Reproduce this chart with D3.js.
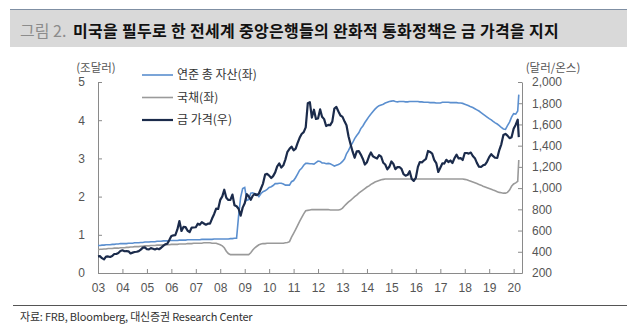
<!DOCTYPE html>
<html><head><meta charset="utf-8">
<script src="https://cdn.jsdelivr.net/npm/d3@7"></script>
<style>
html,body{margin:0;padding:0;background:#fff;}
svg{display:block;font-family:"Liberation Sans","Noto Sans CJK KR",Arial,sans-serif;}
</style></head>
<body>
<svg id="c" width="637" height="332"></svg>
<script>
// ---- data (month-start values, Jan 2003 .. Feb 2020) ----
const startMonth = "2003-01-01";
const fedAssets = [
0.72,0.72,0.73,0.73,0.74,0.74,0.74,0.75,0.75,0.76,0.76,0.77,
0.77,0.77,0.77,0.78,0.78,0.78,0.79,0.79,0.79,0.80,0.80,0.81,
0.81,0.81,0.82,0.82,0.82,0.83,0.83,0.83,0.84,0.84,0.84,0.85,
0.85,0.85,0.85,0.85,0.86,0.86,0.86,0.86,0.87,0.87,0.87,0.87,
0.87,0.87,0.87,0.88,0.88,0.88,0.88,0.88,0.88,0.89,0.89,0.89,
0.89,0.89,0.89,0.89,0.89,0.90,0.90,0.91,0.91,1.49,1.98,2.21,
2.24,1.90,1.92,2.09,2.10,2.07,2.07,2.00,2.08,2.13,2.15,2.19,
2.24,2.26,2.29,2.34,2.34,2.35,2.35,2.33,2.30,2.30,2.30,2.39,
2.42,2.50,2.59,2.69,2.74,2.82,2.87,2.87,2.86,2.86,2.85,2.89,
2.93,2.92,2.88,2.88,2.86,2.87,2.86,2.83,2.80,2.82,2.84,2.87,
2.92,2.99,3.12,3.21,3.32,3.41,3.52,3.60,3.67,3.78,3.85,3.94,
4.02,4.10,4.16,4.23,4.29,4.34,4.38,4.40,4.42,4.45,4.47,4.49,
4.50,4.51,4.49,4.48,4.49,4.49,4.49,4.48,4.48,4.49,4.49,4.49,
4.49,4.49,4.48,4.48,4.47,4.47,4.47,4.46,4.46,4.46,4.45,4.45,
4.45,4.47,4.47,4.47,4.47,4.46,4.46,4.46,4.46,4.45,4.45,4.44,
4.42,4.40,4.38,4.35,4.33,4.30,4.27,4.24,4.20,4.16,4.12,4.08,
4.04,4.01,3.97,3.93,3.90,3.86,3.81,3.77,3.76,3.86,3.95,4.08,
4.17,4.16
];
const treasuries = [
0.61,0.62,0.62,0.63,0.63,0.64,0.64,0.64,0.65,0.65,0.65,0.66,
0.66,0.66,0.67,0.67,0.68,0.68,0.69,0.69,0.69,0.70,0.70,0.71,
0.71,0.71,0.72,0.72,0.72,0.73,0.73,0.73,0.74,0.74,0.74,0.74,
0.75,0.75,0.75,0.75,0.76,0.76,0.76,0.76,0.77,0.77,0.77,0.78,
0.78,0.78,0.78,0.78,0.79,0.79,0.79,0.79,0.78,0.78,0.78,0.76,
0.74,0.71,0.66,0.57,0.51,0.48,0.48,0.48,0.48,0.48,0.48,0.48,
0.48,0.48,0.48,0.53,0.60,0.66,0.70,0.74,0.76,0.77,0.77,0.78,
0.78,0.78,0.78,0.78,0.78,0.78,0.78,0.78,0.79,0.80,0.82,0.94,
1.04,1.14,1.24,1.35,1.45,1.55,1.63,1.64,1.65,1.66,1.66,1.66,
1.66,1.66,1.66,1.66,1.66,1.66,1.65,1.65,1.65,1.65,1.65,1.66,
1.70,1.76,1.81,1.86,1.90,1.95,2.00,2.04,2.09,2.13,2.17,2.21,
2.25,2.28,2.32,2.35,2.38,2.40,2.42,2.44,2.45,2.46,2.46,2.46,
2.46,2.46,2.46,2.46,2.46,2.46,2.46,2.46,2.46,2.46,2.46,2.46,
2.46,2.46,2.46,2.46,2.46,2.46,2.46,2.46,2.46,2.46,2.46,2.46,
2.46,2.46,2.46,2.46,2.46,2.46,2.46,2.46,2.46,2.46,2.46,2.46,
2.45,2.44,2.42,2.40,2.38,2.36,2.34,2.32,2.30,2.27,2.25,2.23,
2.21,2.19,2.17,2.15,2.13,2.11,2.10,2.09,2.09,2.11,2.17,2.27,
2.33,2.36
];
const goldPrice = [
356,359,340,328,355,356,351,360,379,379,389,407,
414,405,406,404,384,392,398,400,406,420,439,442,
424,423,434,429,422,431,424,438,456,470,476,510,
549,555,557,610,690,596,634,632,598,586,628,629,
631,665,655,679,667,655,665,665,713,754,806,803,
889,922,985,909,888,889,939,839,829,806,740,816,
858,943,924,890,928,946,934,949,996,1043,1127,1134,
1118,1095,1113,1148,1205,1232,1193,1215,1271,1342,1370,1391,
1356,1372,1424,1474,1510,1528,1572,1800,1810,1665,1739,1652,
1656,1742,1673,1650,1585,1596,1594,1626,1750,1765,1722,1684,
1671,1627,1593,1487,1414,1343,1286,1347,1349,1316,1275,1222,
1244,1300,1336,1299,1288,1279,1311,1296,1239,1222,1176,1201,
1251,1227,1179,1198,1199,1182,1131,1117,1125,1159,1086,1068,
1097,1200,1246,1243,1260,1276,1350,1341,1326,1266,1236,1152,
1192,1234,1231,1267,1246,1260,1237,1283,1315,1280,1282,1265,
1331,1331,1325,1335,1303,1282,1238,1202,1199,1215,1221,1250,
1292,1320,1301,1286,1284,1359,1413,1500,1511,1495,1471,1480,
1560,1598
];
// March 2020 tail points
const tailDates = ["2020-03-02","2020-03-18"];
const tailFed = [4.24, 4.67];
const tailTreasuries = [2.40, 2.96];
const tailGold = [1645, 1480];

const xTickYears = d3.range(2003, 2021);
const leftTicks = [0,1,2,3,4,5];
const rightTicks = [200,400,600,800,1000,1200,1400,1600,1800,2000];
const seriesNames = ["연준 총 자산(좌)", "국채(좌)", "금 가격(우)"];
const titleLead = "그림 2.";
const titleText = "미국을 필두로 한 전세계 중앙은행들의 완화적 통화정책은 금 가격을 지지";
const sourceText = "자료: FRB, Bloomberg, 대신증권 Research Center";

// ---- build ----
const parse = d3.timeParse("%Y-%m-%d");
const start = parse(startMonth);
const dates = fedAssets.map((_, i) => d3.timeMonth.offset(start, i)).concat(tailDates.map(parse));
function series(vals, tail){ return vals.concat(tail).map((v,i)=>({d:dates[i], v})); }
const sFed = series(fedAssets, tailFed);
const sTre = series(treasuries, tailTreasuries);
const sGold = series(goldPrice, tailGold);

const svg = d3.select("#c");
const L = 98, R = 522, T = 82, B = 273;
const x = d3.scaleTime().domain([parse("2003-01-01"), parse("2020-05-05")]).range([L, R]);
const yL = d3.scaleLinear().domain([0,5]).range([B,T]);
const yR = d3.scaleLinear().domain([200,2000]).range([B,T]);

// title band
svg.append("rect").attr("x",10).attr("y",9).attr("width",617).attr("height",38).attr("fill","#d9d9d9");
svg.append("line").attr("x1",10).attr("x2",627).attr("y1",9.5).attr("y2",9.5).attr("stroke","#7f8fa3").attr("stroke-width",1.2);
svg.append("text").attr("x",20).attr("y",37).attr("font-family","'Noto Sans CJK KR',sans-serif").attr("font-size",16)
  .attr("fill","#8c8c8c").text(titleLead);
svg.append("text").attr("x",73).attr("y",37).attr("font-family","'Noto Sans CJK KR',sans-serif").attr("font-size",16)
  .attr("letter-spacing","0.3").attr("fill","#111").attr("font-weight","bold").text(titleText);

const axisColor = "#8a8a8a";
const labelColor = "#555";
// axes
const gx = svg.append("g").attr("transform",`translate(0,${B})`)
  .call(d3.axisBottom(x).tickValues(xTickYears.map(y=>new Date(y,0,1))).tickFormat(d3.timeFormat("%y")).tickSize(-4).tickSizeOuter(0).tickPadding(10));
const gl = svg.append("g").attr("transform",`translate(${L},0)`)
  .call(d3.axisLeft(yL).tickValues(leftTicks).tickFormat(d3.format("d")).tickSize(-4).tickSizeOuter(0).tickPadding(13));
const gr = svg.append("g").attr("transform",`translate(${R},0)`)
  .call(d3.axisRight(yR).tickValues(rightTicks).tickFormat(d3.format(",")).tickSize(-4).tickSizeOuter(0).tickPadding(10));
[gx,gl,gr].forEach(g=>{
  g.select(".domain").attr("stroke",axisColor);
  g.selectAll(".tick line").attr("stroke",axisColor);
  g.selectAll(".tick text").attr("fill",labelColor).attr("font-size",12).attr("font-family","'Liberation Sans',Arial,sans-serif");
});
gx.select(".tick line").remove();

// unit labels
svg.append("text").attr("x",96).attr("y",72).attr("text-anchor","middle").attr("font-size",11.5).attr("fill",labelColor).attr("font-family","'Noto Sans CJK KR',sans-serif").text("(조달러)");
svg.append("text").attr("x",553).attr("y",72).attr("text-anchor","middle").attr("font-size",11.5).attr("fill",labelColor).attr("font-family","'Noto Sans CJK KR',sans-serif").text("(달러/온스)");

// lines
const colors = ["#5b8fcf", "#9a9a9a", "#1b2b4b"];
const widths = [1.6, 1.6, 2.2];
const lineL = d3.line().x(d=>x(d.d)).y(d=>yL(d.v));
const lineR = d3.line().x(d=>x(d.d)).y(d=>yR(d.v));
svg.append("path").datum(sTre).attr("d",lineL).attr("fill","none").attr("stroke",colors[1]).attr("stroke-width",widths[1]);
svg.append("path").datum(sFed).attr("d",lineL).attr("fill","none").attr("stroke",colors[0]).attr("stroke-width",widths[0]);
svg.append("path").datum(sGold).attr("d",lineR).attr("fill","none").attr("stroke",colors[2]).attr("stroke-width",widths[2]).attr("stroke-linejoin","round");

// legend
const legY = [75, 97.5, 120];
seriesNames.forEach((n,i)=>{
  svg.append("line").attr("x1",142).attr("x2",173).attr("y1",legY[i]).attr("y2",legY[i]).attr("stroke",colors[i]).attr("stroke-width",widths[i]);
  svg.append("text").attr("x",177).attr("y",legY[i]).attr("dy","0.35em").attr("font-size",12).attr("fill","#333").attr("font-family","'Noto Sans CJK KR',sans-serif").text(n);
});

// footer
svg.append("line").attr("x1",13).attr("x2",627).attr("y1",305.5).attr("y2",305.5).attr("stroke","#555").attr("stroke-width",1);
svg.append("text").attr("x",20).attr("y",321).attr("font-size",11).attr("fill","#333").attr("font-family","'Noto Sans CJK KR',sans-serif").attr("letter-spacing","-0.2").text(sourceText);
</script>
</body></html>
